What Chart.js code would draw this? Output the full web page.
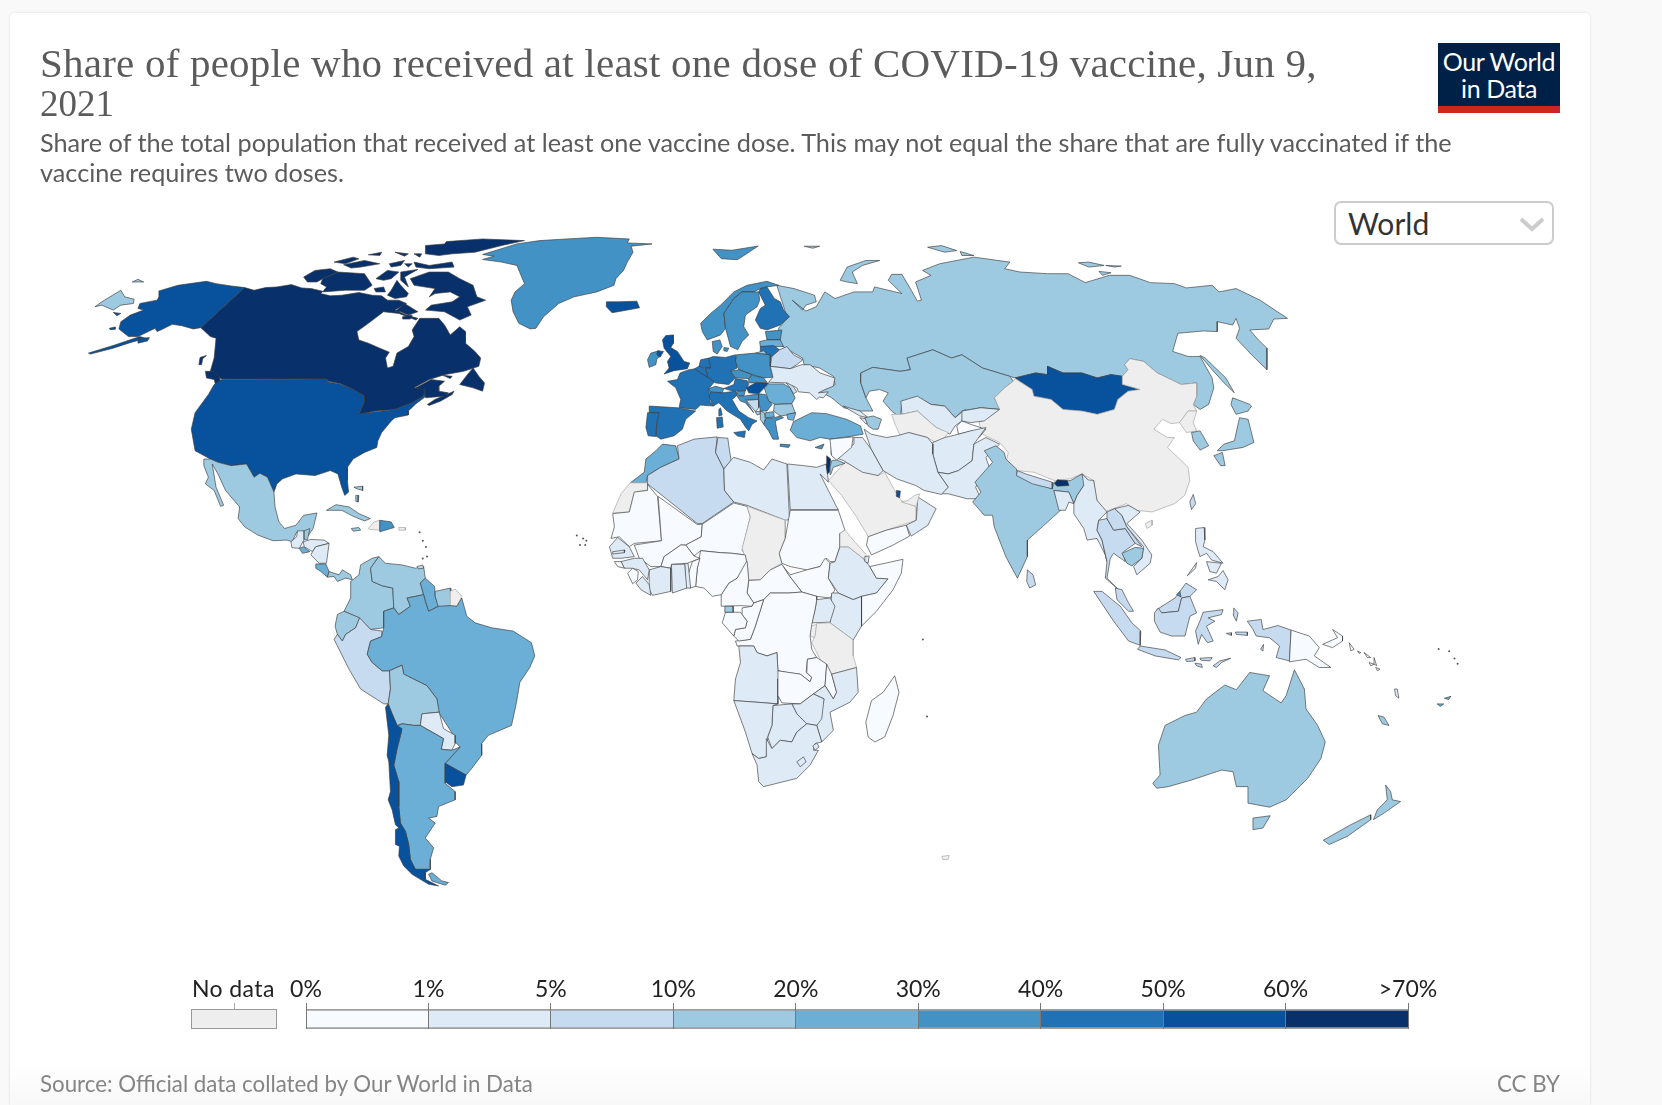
<!DOCTYPE html>
<html>
<head>
<meta charset="utf-8">
<title>Share of people who received at least one dose of COVID-19 vaccine</title>
<script src="https://cdn.jsdelivr.net/npm/chart.js@4"></script>
<style>
html, body { margin: 0; padding: 0; width: 1662px; height: 1105px; overflow: hidden; background: #f9f9f9; }
#card { position: absolute; left: 10px; top: 13px; width: 1580px; height: 1092px; background: linear-gradient(#fff 0, #fff 1050px, #f8f8f8 1092px); border-radius: 5px 5px 0 0; box-shadow: 0 0 3px rgba(0,0,0,.12); }
#map { position: absolute; left: 0; top: 0; }
#legend { position: absolute; left: 265px; top: 965px; }
.txt { position: absolute; white-space: nowrap; font-family: Lato, sans-serif; color: #5b5b5b; }
#title { left: 40px; font-family: "Liberation Serif", serif; font-size: 41px; letter-spacing: .22px; }
#logo { position: absolute; left: 1438px; top: 43px; width: 122px; height: 70px; background: #002147; border-bottom: 7px solid #ce261e; box-sizing: border-box; color: #fff; font: 25px/27px Lato, sans-serif; text-align: center; padding-top: 5px; letter-spacing: -.4px; }
#picker { position: absolute; left: 1334px; top: 201px; width: 220px; height: 44px; box-sizing: border-box; border: 2px solid #ccc; border-radius: 7px; background: #fff; font: 30px/40px Lato, sans-serif; color: #333; padding-left: 12px; }
#picker svg { position: absolute; right: 7px; top: 13px; }
#nodata { position: absolute; left: 191px; top: 1009px; width: 86px; height: 20px; box-sizing: border-box; background: #eee; border: 1px solid #999; }
#nodatatick { position: absolute; left: 234px; top: 1003px; width: 1px; height: 6px; background: #aaa; }
</style>
</head>
<body>
<div id="card"></div>
<canvas id="map" width="1662" height="1105"></canvas>
<canvas id="legend" width="1193" height="64"></canvas>
<div class="txt" id="title" style="top:39px">Share of people who received at least one dose of COVID-19 vaccine, Jun 9,</div>
<div class="txt" id="title2" style="left:40px;top:82px;font:37px 'Liberation Serif',serif">2021</div>
<div class="txt" style="left:40px;top:127px;font-size:25.25px">Share of the total population that received at least one vaccine dose. This may not equal the share that are fully vaccinated if the</div>
<div class="txt" style="left:40px;top:157px;font-size:25.25px">vaccine requires two doses.</div>
<div id="logo">Our World<br>in Data</div>
<div id="picker">World<svg width="26" height="16" viewBox="0 0 26 16"><path d="M2 3 L13 13 L24 3" fill="none" stroke="#ccc" stroke-width="4"/></svg></div>
<div class="txt" style="left:192px;top:974px;font-size:23px;letter-spacing:.4px;color:#222">No data</div>
<div id="nodata"></div><div id="nodatatick"></div>
<div class="txt" style="left:40px;top:1070px;font-size:22.3px;color:#858585">Source: Official data collated by Our World in Data</div>
<div class="txt" style="right:102px;top:1070px;font-size:22.3px;color:#858585">CC BY</div>
<script>
// legend bins
const legendLabels = ['0%', '1%', '5%', '10%', '20%', '30%', '40%', '50%', '60%', '>70%'];
const shareBreaks = [1, 5, 10, 20, 30, 40, 50, 60];
const binColors = ['#f7fbff', '#deebf7', '#c6dbef', '#9ecae1', '#6baed6', '#4292c6', '#2171b5', '#08519c', '#08306b'];
const noDataColor = '#eeeeee';

const sheetRussia = [780, 240, 2.9037, 3];
const sheetAmericasN = [60, 220, 2.6133, 3];
const sheetAmericasS = [280, 500, 3, 3];
const sheetAfrica = [600, 430, 3, 3];
const sheetAsia = [780, 240, 2.9037, 3];
const sheetPacific = [960, 440, 3, 3];
const sheetEurope = [620, 270, 3, 3];
const sheetWhole = [0, 0, 0.9434, 0.9434];

const russiaNames = ['Russia'];
const russiaShares = [12];
const russiaRings = [[
  [-10,130,40,140,100,160,105,180,75,190,65,205,35,175,75,208,105,195,130,150,160,170,215,150,270,150,275,135,355,155,315,115,325,97,355,97,385,150,400,178,412,175,395,120,440,100,415,85,465,65,565,45,670,60,655,80,700,90,780,95,840,95,890,122,960,100,1020,100,1080,122,1150,125,1185,138,1260,130,1280,150,1330,140,1400,175,1480,230,1440,232,1425,262,1370,265,1395,295,1420,320,1420,385,1380,345,1330,290,1340,260,1330,230,1320,250,1275,240,1275,270,1235,268,1160,275,1145,330,1190,345,1225,345,1260,410,1265,440,1250,490,1225,505,1205,490,1215,465,1215,425,1170,430,1100,395,1060,360,1020,352,1005,370,1015,385,998,405,965,400,925,410,880,395,825,395,780,375,780,400,745,395,685,410,590,380,530,340,500,350,445,325,370,350,380,385,350,390,270,378,235,395,235,425,250,470,270,510,230,510,185,500,150,470,115,450,160,430,155,405,115,380,70,370,65,350,15,320,0,310,-5,260,20,230,10,195],
  [175,115,195,75,250,55,290,55,240,70,210,90,225,125,195,120],
  [430,15,470,10,515,25,480,30],
  [525,28,565,40,530,40],
  [870,62,900,60,945,70,900,75],
  [950,70,995,72,975,75],
  [930,88,965,92,940,100],
  [70,12,115,12,95,18],
  [1225,342,1240,350,1300,410,1325,455,1295,425,1260,385]
]];

const northNames = ['Chukotka', 'Canada', 'Alaska', 'United States', 'Greenland', 'Iceland', 'Mexico', 'Cuba', 'Jamaica', 'Haiti', 'Dominican Republic', 'Puerto Rico', 'Bahamas'];
const northShares = [12, 62, 52, 52, 35, 55, 15, 15, 12, null, 32, null, 15];
const northRings = [
  [[82,255,100,240,150,205,160,225,185,232,183,245,150,250,130,265,100,250],[180,180,195,172,210,180]],
  [[475,197,500,205,530,197,560,195,598,188,625,198,650,200,680,208,675,215,700,222,730,220,775,212,810,220,835,222,850,235,880,235,900,245,870,265,900,280,930,290,925,295,880,275,840,270,800,305,770,330,775,355,800,365,830,380,855,392,845,410,850,440,865,435,875,395,905,375,920,345,915,325,935,290,965,290,985,290,1000,310,1015,340,1040,315,1055,330,1055,365,1080,390,1095,410,1090,435,1050,450,1000,460,960,475,920,500,950,500,945,525,915,545,870,565,820,570,775,580,790,540,790,525,760,505,725,487,695,480,690,473,415,473,385,450,395,410,400,350,385,345,360,318],
   [1040,490,1060,460,1075,440,1090,465,1105,485,1100,510,1075,500],
   [955,550,975,535,1025,510,1020,520,990,540,960,553],
   [945,505,925,500,965,475,1000,480,985,495,985,510,1010,515,1000,525,950,530],
   [995,462,1020,465,1015,472],
   [910,170,960,150,1010,150,1040,170,1075,190,1085,225,1108,235,1060,255,1070,280,1040,295,1000,270,950,265,965,250,1020,240,1040,225,1015,210,975,215,960,225,975,200,920,190],
   [870,270,895,245,930,270,905,280,885,270],
   [890,285,915,280,910,292,890,292],
   [680,170,720,150,790,155,810,190,790,205,740,205,680,210,690,195,675,185],
   [630,165,660,145,700,140,720,150,680,170,665,180,640,180],
   [820,170,850,145,880,150,860,170,840,175],
   [815,200,840,195,845,210,820,210],
   [860,205,875,175,885,190,905,215,900,225,870,230,850,220],
   [885,150,930,142,910,155,895,165,905,195,885,175],
   [950,70,1000,65,1005,58,1100,50,1210,55,1150,70,1080,90,1020,95,985,100,950,95],
   [920,120,960,130,1020,120,1025,135,960,140,925,135],
   [855,125,895,115,885,130,860,135],
   [710,120,760,105,775,110,740,125],
   [735,128,790,115,830,125,780,135,755,138],
   [800,98,835,90,830,100],
   [870,90,905,95,895,102],
   [920,95,940,95,935,105],
   [895,125,915,125,905,135],
   [355,430,358,408,375,402,365,412,362,430],
   [372,450,395,450,410,470,410,495,400,495,395,475,375,470]],
  [[65,395,130,372,200,345,215,350,170,365,130,380,70,398],[195,352,225,348,220,358,195,365],[120,320,135,316,135,323,122,324],[130,272,150,275,140,282]],
  [[250,207,300,190,375,178,400,185,440,192,475,197,360,318,340,322,310,312,285,308,255,325,245,330,240,320,195,345,170,345,145,322,150,300,175,280,210,265,195,260,200,245,245,235,250,225],
   [415,475,690,473,695,482,725,488,760,505,790,525,790,540,775,578,820,572,870,565,915,545,945,525,950,500,948,528,925,548,905,570,905,582,870,590,860,600,835,635,825,660,822,680,790,695,760,715,745,740,745,780,748,815,738,825,730,800,720,760,700,750,660,765,610,760,575,775,560,790,552,815,535,770,515,758,500,770,480,730,440,735,405,725,385,715,345,690,335,625,345,575,380,520,395,490]],
  [[1100,97,1190,65,1250,55,1320,50,1400,45,1485,50,1480,62,1545,65,1490,72,1495,90,1480,120,1470,145,1450,170,1445,190,1400,210,1340,225,1300,245,1260,285,1240,320,1225,322,1195,305,1180,270,1175,235,1185,210,1210,185,1190,130,1150,120,1100,112,1130,102]],
  [[1425,240,1460,240,1505,238,1512,258,1480,265,1440,273,1425,255]],
  [[368,715,385,715,405,725,440,735,480,730,500,770,515,758,535,770,552,815,555,860,565,905,580,925,610,915,630,885,665,878,655,925,640,950,625,935,612,935,600,965,585,960,550,962,510,945,475,920,458,895,462,860,425,810,405,760,390,730,400,800,420,855,412,858,395,810,372,790,380,770,368,735]],
  [[690,870,715,853,750,860,775,880,805,895,790,902,760,888,730,870]],
  [[755,925,775,922,780,930,760,933]],
  [[800,925,815,905,830,900,830,930,805,928]],
  [[830,900,860,905,868,922,830,935]],
  [[880,922,897,922,897,930,880,930]],
  [[762,800,785,797,785,810,770,805],[767,825,775,825,773,845,767,843]]
];

const southNames = ['Guatemala', 'Belize', 'Honduras', 'El Salvador', 'Nicaragua', 'Costa Rica', 'Panama', 'Colombia', 'Venezuela', 'Trinidad', 'Guyana', 'Suriname', 'French Guiana', 'Ecuador', 'Peru', 'Brazil', 'Bolivia', 'Paraguay', 'Uruguay', 'Argentina', 'Chile'];
const southShares = [2, 12, 2, 25, 3, 25, 15, 15, 12, 8, 22, 12, null, 14, 7, 24, 15, 4, 55, 28, 58];
const southRings = [
  [[25,125,42,110,45,92,65,92,65,118,50,145,28,143]],
  [[65,92,82,85,75,118,65,118]],
  [[62,125,85,118,125,120,140,130,100,140,90,155,65,140]],
  [[50,145,62,140,82,155,60,160]],
  [[90,155,100,140,140,130,132,190,110,190,85,165]],
  [[100,192,130,192,140,215,135,232,115,215,100,205]],
  [[140,215,170,225,180,210,205,225,210,240,190,235,165,245,155,230,135,232]],
  [[235,195,270,175,290,170,265,205,270,245,300,258,332,265,335,325,305,335,305,385,265,390,230,355,185,335,205,295,205,245,230,225]],
  [[265,205,290,170,310,190,360,195,400,205,425,200,430,235,415,250,425,285,375,295,385,320,350,345,335,325,332,265,300,258,270,245]],
  [[405,200,422,195,425,205,410,207]],
  [[430,235,458,260,460,290,470,320,440,335,430,305,425,285,415,250]],
  [[460,275,505,265,507,318,470,325,460,290]],
  [[505,275,520,268,540,290,525,320,507,320]],
  [[165,345,185,335,232,355,220,385,190,405,180,425,165,405,158,380]],
  [[155,420,165,405,180,425,190,405,220,385,232,355,265,390,300,395,298,412,265,425,255,465,270,490,300,515,322,515,325,570,318,615,305,615,235,570,200,510]],
  [[305,335,335,325,350,345,385,320,375,295,425,285,430,305,440,335,470,320,507,318,525,320,540,295,555,350,580,370,630,385,695,395,750,430,760,470,745,505,715,550,705,610,690,680,620,710,600,735,600,770,570,810,553,830,490,795,535,745,520,730,515,710,470,640,465,600,435,560,365,525,360,498,320,515,300,515,270,490,255,465,265,425,298,412,305,385]],
  [[322,515,360,498,365,525,435,560,465,600,472,640,420,645,415,680,395,680,360,675,345,680,330,645,318,615,325,570]],
  [[420,645,472,640,485,690,520,710,520,735,510,755,478,752,485,720,415,680]],
  [[490,795,553,830,545,860,510,865,490,850]],
  [[345,682,360,675,395,680,415,680,485,720,478,752,510,755,535,745,490,795,490,855,520,880,520,905,470,925,465,955,440,960,460,975,430,1020,455,1050,445,1085,445,1115,400,1115,385,1085,380,1040,370,1000,355,975,350,925,350,850,335,800,345,750,358,700],[450,1125,480,1150,500,1155,490,1163,450,1150,440,1130]],
  [[310,625,318,615,330,645,345,680,360,690,345,750,335,800,350,850,350,925,355,975,370,1000,380,1040,385,1085,400,1115,445,1115,430,1125,430,1145,470,1165,440,1160,390,1130,365,1105,350,1075,352,1045,340,1040,340,995,350,990,340,980,330,935,318,905,325,880,320,790,315,770,320,710]]
];

const africaNames = ['Saudi Arabia', 'Yemen', 'Oman', 'UAE', 'Qatar', 'Morocco', 'Western Sahara', 'Algeria', 'Tunisia', 'Libya', 'Egypt', 'Mauritania', 'Mali', 'Niger', 'Chad', 'Sudan', 'South Sudan', 'CAR', 'Cameroon', 'Nigeria', 'Benin', 'Togo', 'Ghana', 'Burkina Faso', 'Ivory Coast', 'Liberia', 'Guinea', 'Sierra Leone', 'Guinea-Bissau', 'Senegal', 'Gambia', 'Ethiopia', 'Eritrea', 'Djibouti', 'Somalia', 'Kenya', 'Uganda', 'Rwanda', 'Tanzania', 'DR Congo', 'Congo', 'Gabon', 'Equatorial Guinea', 'Angola', 'Zambia', 'Malawi', 'Mozambique', 'Zimbabwe', 'Botswana', 'Namibia', 'South Africa', 'Lesotho', 'Eswatini', 'Madagascar'];
const africaShares = [null, 0.5, 4, null, 55, 26, null, 6, 6, 2, 2, 0.7, 0.6, 0.5, null, 0.8, 0.4, 0.2, 0.3, 0.9, 0.3, 3, 3, 0.1, 2, 1.5, 2, 0.6, 0.5, 3, 1.5, 2, null, 4, 0.3, 2, 2, null, null, 0.05, 0.3, 0.5, 13, 2, 0.8, 0.9, 2, 4, 4, 3, 2.5, 2, 3, 0.3];
const africaRings = [
  [[685,150,735,95,835,135,855,125,885,180,905,210,950,230,950,270,860,300,805,320,800,310,770,260,725,195]],
  [[805,320,860,300,920,285,930,318,880,345,815,375,800,345]],
  [[920,285,950,270,955,200,1010,235,985,285,935,318]],
  [[905,215,950,228,960,190,945,195,925,210]],
  [[890,180,902,182,900,202,890,198]],
  [[185,40,225,45,235,85,180,110,140,135,135,157,88,157,130,125,135,85,165,60]],
  [[88,157,140,157,140,178,100,185,85,245,35,248,60,190]],
  [[230,45,280,25,350,18,345,65,370,115,372,180,400,215,305,280,290,280,140,160,140,135,180,110,235,85]],
  [[352,20,382,22,385,45,392,90,370,115,345,65]],
  [[392,88,400,80,450,95,490,118,515,85,560,100,568,268,555,270,440,225,400,215,372,180,370,115]],
  [[562,100,610,105,650,110,680,100,685,155,660,130,710,230,715,238,570,238]],
  [[35,250,85,245,100,185,140,180,140,162,170,198,182,332,100,340,85,350,55,320,30,325,40,290]],
  [[172,198,290,283,305,282,302,320,255,345,240,345,190,380,180,410,150,410,115,385,100,345,182,332]],
  [[305,282,400,218,440,228,450,260,425,360,435,375,395,370,360,368,300,362,280,378,255,345,302,320]],
  [[440,228,555,270,555,325,537,370,545,400,510,420,480,450,445,450,440,395,432,375,425,355,450,260]],
  [[570,240,715,240,735,300,720,310,720,350,705,395,690,395,680,385,660,410,620,420,570,410,545,400,537,370,555,325]],
  [[545,405,570,435,620,420,660,410,675,385,690,400,685,445,705,480,690,505,650,500,605,487,565,435]],
  [[445,452,480,450,510,420,545,403,565,435,605,487,565,490,510,490,490,510,460,520,440,490]],
  [[440,395,445,450,440,490,460,520,455,530,420,528,362,530,362,495,385,460,410,445,432,395]],
  [[285,470,290,415,300,362,360,368,395,370,435,375,438,395,410,445,385,460,362,495,335,500,310,475]],
  [[268,475,262,435,275,395,298,385,290,415,285,470]],
  [[255,475,252,400,262,400,270,475]],
  [[212,403,252,403,258,475,215,490]],
  [[180,410,190,380,240,345,255,345,280,378,298,385,260,400,212,403,210,415]],
  [[145,420,180,410,210,415,210,485,155,497,145,480]],
  [[105,460,125,440,145,465,150,497,120,480]],
  [[60,395,100,385,125,385,145,420,140,450,115,420,90,415,70,415]],
  [[80,430,95,415,112,425,110,450,95,462]],
  [[40,395,60,395,70,415,50,410]],
  [[25,350,50,322,85,350,100,380,60,385,35,385]],
  [[35,365,72,360,70,368,35,372]],
  [[720,350,745,350,790,385,810,410,830,445,865,447,830,490,785,500,760,510,715,490,685,445,690,400,705,395]],
  [[735,300,760,330,800,375,790,385,745,350,720,350,720,310]],
  [[795,380,808,378,805,400,795,395]],
  [[810,410,910,388,905,430,880,480,830,545,785,590,785,500,830,490,865,447,830,445]],
  [[695,490,715,490,760,510,785,500,785,590,760,632,690,580]],
  [[650,510,690,505,705,530,690,578,635,580,645,540]],
  [[630,590,650,585,645,625,630,620]],
  [[650,582,690,580,760,632,760,680,770,715,695,735,660,690,635,640,645,620]],
  [[490,510,510,490,565,490,605,487,650,500,650,510,645,540,635,585,630,620,635,660,650,685,622,690,618,730,635,745,630,758,600,735,560,730,533,725,530,670,500,680,470,670,460,650,410,650,405,635,450,630,465,590]],
  [[425,535,455,530,460,520,490,510,465,590,450,630,415,635,400,620,405,600,435,595,440,575,425,555]],
  [[375,548,420,548,425,555,440,575,435,595,405,600,400,620,365,580]],
  [[373,530,398,530,398,548,373,548]],
  [[415,650,460,650,470,670,500,680,530,670,533,725,558,730,558,750,532,750,533,825,470,820,400,815,405,750,420,700]],
  [[533,725,600,735,630,758,635,745,620,730,622,690,650,685,680,705,675,770,640,795,600,825,545,822,533,800]],
  [[680,705,695,735,710,790,700,810,675,770]],
  [[695,735,770,715,775,790,750,820,690,850,700,905,665,940,650,890,672,810,640,795,675,770,700,810,710,790]],
  [[575,825,600,825,640,795,672,810,665,870,650,890,620,885,590,855]],
  [[518,830,575,825,590,855,620,885,590,910,575,940,540,935,515,960,502,925,515,890]],
  [[400,815,470,820,533,825,518,830,515,890,502,925,498,985,475,990,455,975,435,910]],
  [[498,930,515,960,540,935,575,940,590,910,620,885,650,890,665,940,645,945,640,965,655,965,630,1010,590,1050,530,1065,490,1075,475,1060,470,1010,455,975,475,990,498,985]],
  [[590,1000,610,985,618,1000,600,1015]],
  [[638,952,650,943,657,955,645,965]],
  [[885,740,898,790,880,860,855,925,825,940,805,925,798,880,815,815,850,790]]
];

const asiaNames = ['Kazakhstan', 'Mongolia', 'China', 'North Korea', 'South Korea', 'Hainan', 'Taiwan', 'Japan', 'Uzbekistan', 'Turkmenistan', 'Kyrgyzstan', 'Tajikistan', 'Afghanistan', 'Pakistan', 'Iran', 'Iraq', 'Syria'];
const asiaShares = [14, 55, null, null, 14, null, 6, 14, 3, null, 2, 0.7, 2, 3, 3, 2, 0.5];
const asiaRings = [
  [[235,395,270,378,350,390,380,385,370,350,445,325,500,350,530,340,590,380,670,405,680,420,655,440,625,470,640,505,585,500,530,510,510,530,480,495,440,490,400,470,355,485,350,530,325,510,300,480,315,455,290,445,260,450,250,470,235,425]],
  [[685,410,745,395,780,400,780,375,825,395,880,395,925,410,965,400,998,405,1000,430,1050,445,1015,450,985,475,975,505,925,520,880,510,825,505,790,475,740,465,735,445]],
  [[680,420,685,412,735,445,740,465,790,475,825,505,880,510,925,520,975,505,985,475,1015,450,1050,445,1000,430,998,405,1015,385,1005,370,1020,352,1060,360,1100,395,1170,430,1215,425,1215,465,1205,490,1215,510,1190,510,1165,545,1140,548,1115,535,1090,565,1130,590,1150,590,1130,620,1190,680,1195,720,1180,765,1150,790,1085,815,1040,810,1010,790,985,800,945,815,920,770,915,720,880,700,845,715,800,720,740,695,690,690,660,660,665,635,640,605,590,580,580,545,620,520,640,505,625,470,655,440]],
  [[1165,545,1190,510,1215,510,1205,545,1215,570,1185,575]],
  [[1200,575,1225,570,1250,615,1225,628,1205,600]],
  [[1065,850,1085,840,1085,855,1070,865]],
  [[1205,762,1212,790,1200,808,1195,785]],
  [[1320,470,1370,490,1375,495,1365,510,1330,520,1315,490],[1340,530,1365,535,1382,605,1350,620,1290,630,1275,630,1295,610,1325,600],[1265,645,1290,635,1298,675,1285,675]],
  [[352,480,400,465,440,490,480,495,510,530,540,505,530,540,510,555,495,580,455,560,400,510,355,520]],
  [[325,520,355,520,400,510,455,560,490,575,480,590,460,610,430,590,375,575,350,585,335,550]],
  [[530,510,585,500,640,505,595,540,555,545,530,540]],
  [[515,555,530,540,555,550,600,565,580,590,550,585,560,570,520,580]],
  [[445,605,480,590,520,580,555,570,600,560,565,610,560,660,520,690,490,700,460,695,445,640]],
  [[460,695,490,700,520,690,560,660,565,610,600,590,640,610,600,650,610,680,570,740,585,775,545,775,490,760,470,760,490,740]],
  [[245,565,265,580,310,590,340,585,375,575,430,590,445,610,445,640,460,695,490,740,470,762,420,750,395,735,340,715,300,690,265,625]],
  [[215,590,240,590,265,625,300,690,285,705,240,695,185,660,160,650,215,610]],
  [[150,600,210,590,205,620,160,650,148,640]]
];

const pacificNames = ['India', 'Nepal', 'Bhutan', 'Bangladesh', 'Myanmar', 'Thailand', 'Laos', 'Vietnam', 'Cambodia', 'Malaysia', 'Brunei', 'Sri Lanka', 'Indonesia', 'Philippines', 'Papua New Guinea', 'Solomon Islands', 'Vanuatu', 'New Caledonia', 'Fiji', 'Australia', 'New Zealand'];
const pacificShares = [14, 7, 62, 3, 3, 6, 7, 1.5, 12, 8, 35, 7, 6, 3, 0.2, 0.7, 3, 13, 25, 15, 12];
const pacificRings = [
  [[75,30,110,15,135,35,140,55,172,85,175,105,280,145,285,125,335,120,370,100,388,118,375,135,355,165,345,190,330,155,285,150,305,210,250,260,205,300,205,350,175,415,140,350,105,260,100,225,75,225,40,185,65,155,47,125,100,65]],
  [[175,90,200,100,280,125,280,145,220,130,172,105]],
  [[287,130,295,118,325,120,330,135,295,137]],
  [[285,150,330,155,345,190,330,185,320,210,300,210]],
  [[370,100,388,118,405,120,415,180,445,215,420,240,415,270,430,300,445,365,440,345,415,295,385,300,375,265,345,220,345,190,355,165,375,135]],
  [[420,240,445,235,465,270,500,265,530,310,495,335,500,365,465,340,455,355,445,415,480,450,440,415,445,365,430,300,415,270]],
  [[445,215,468,205,490,225,505,260,550,320,530,310,500,265,465,270,445,235]],
  [[468,205,510,195,545,215,505,250,550,300,580,345,575,370,535,405,525,380,550,355,555,320,505,260,490,225]],
  [[490,340,530,322,555,325,550,355,520,378,505,370]],
  [[470,445,490,450,510,490,525,515,510,515,475,480],[595,510,650,475,683,430,715,450,695,470,670,475,660,515,610,520]],
  [[655,465,665,455,668,472]],
  [[205,390,222,405,230,435,212,445,203,425]],
  [[405,455,430,455,485,500,520,550,547,575,545,618,510,605,465,545],[537,630,545,620,620,632,668,655,660,662,590,650],[588,520,600,505,610,520,660,515,670,475,695,470,715,520,695,530,680,590,640,590,605,578,588,545],[735,518,795,510,790,525,750,535,770,545,745,560,765,605,748,610,730,585,720,615,712,575,725,545],[827,505,840,520,835,545,825,525],[868,545,910,540,915,570,935,565,960,558,1000,572,995,665,955,655,965,620,935,595,895,590,885,570],[832,578,868,578,868,588,835,585],[805,582,820,580,820,588],[765,680,785,665,818,657,790,670,775,685],[682,660,710,655,710,665,685,667],[725,657,762,655,755,665,728,663],[710,672,730,675,732,685,715,680],[908,630,917,615,915,635]],
  [[712,265,738,262,740,300,735,320,765,335,795,370,760,360,745,340,725,350,712,305],[745,365,790,370,775,400,755,395],[750,420,780,410,795,392,810,420,800,450,775,425],[687,408,715,368,712,385]],
  [[1000,572,1055,590,1085,625,1070,650,1120,685,1085,685,1045,660,995,668],[1095,615,1140,595,1125,570,1155,590,1155,605,1125,625]],
  [[1175,610,1190,630,1180,635],[1200,635,1210,640,1205,643],[1220,640,1240,655,1230,655],[1250,655,1258,680,1250,675],[1235,670,1250,675,1240,680],[1255,685,1268,690,1260,695]],
  [[1312,750,1320,750,1325,778,1315,770]],
  [[1262,830,1280,835,1295,860,1275,855]],
  [[1440,795,1460,795,1450,803],[1462,778,1482,772,1475,782]],
  [[583,1035,605,1010,600,920,620,860,680,830,715,820,745,780,800,738,835,752,875,700,935,710,915,755,970,792,985,770,1010,692,1040,750,1045,810,1080,860,1103,910,1090,960,1050,1020,985,1085,935,1107,870,1095,870,1045,835,1045,825,1000,790,995,700,1025,630,1045,595,1050],[885,1140,937,1133,915,1170,885,1175]],
  [[1097,1207,1180,1160,1240,1130,1240,1145,1170,1195,1115,1220],[1285,1040,1300,1060,1305,1085,1330,1090,1280,1125,1248,1145,1260,1115,1290,1085]]
];

const europeNames = ['Ireland', 'Northern Ireland', 'United Kingdom', 'France', 'Spain', 'Portugal', 'Netherlands', 'Belgium', 'Germany', 'Denmark', 'Norway', 'Sweden', 'Finland', 'Estonia', 'Latvia', 'Lithuania', 'Kaliningrad', 'Belarus', 'Poland', 'Czechia', 'Slovakia', 'Switzerland', 'Austria', 'Hungary', 'Italy', 'Slovenia', 'Croatia', 'Bosnia', 'Serbia', 'Romania', 'Moldova', 'Ukraine', 'Bulgaria', 'North Macedonia', 'Albania', 'Montenegro', 'Greece', 'Turkey', 'Cyprus', 'Syria coast', 'Israel', 'Jordan', 'Georgia', 'Armenia', 'Azerbaijan'];
const europeShares = [35, 59, 59, 43, 43, 43, 42, 45, 45, 37, 35, 36, 48, 33, 24, 42, 12, 7, 38, 37, 36, 39, 42, 53, 42, 38, 32, 6, 38, 24, 7, 2, 12, 25, 13, 19, 37, 24, 35, 0.5, 62, 12, 3, 1, 14];
const europeRings = [
  [[80,265,90,245,115,238,118,255,108,262,105,280,85,288]],
  [[110,238,128,240,118,257,108,250]],
  [[125,205,135,192,157,190,158,215,150,228,170,240,190,270,207,275,200,292,160,298,130,308,145,290,140,270,150,255,130,230]],
  [[140,330,170,325,178,305,205,295,225,292,262,318,283,330,265,352,268,390,278,405,240,402,225,415,175,410,180,385,165,350],[295,415,300,410,305,432,295,435]],
  [[85,405,170,410,225,420,195,445,185,475,160,495,120,505,105,495,108,452,115,425,85,425]],
  [[80,425,115,425,108,452,105,497,82,495,75,470]],
  [[240,265,265,260,270,290,255,290,235,285]],
  [[222,292,235,285,255,292,262,318,240,305]],
  [[278,255,315,258,345,250,350,290,330,300,345,320,325,340,285,335,262,318,255,290,270,290,265,260]],
  [[275,210,298,205,305,225,290,248,278,240],[310,228,325,230,320,240,310,238]],
  [[240,155,245,180,260,205,300,190,315,170,310,125,340,80,365,60,400,60,420,50,440,45,475,40,440,28,380,40,340,60,300,100,270,125]],
  [[310,125,340,80,365,60,415,60,418,85,410,105,375,130,370,165,385,190,365,210,352,235,330,225,315,170]],
  [[415,60,420,50,440,45,462,80,480,90,490,115,508,135,480,160,440,175,420,170,405,145,420,110,435,100]],
  [[435,180,485,175,480,205,440,205]],
  [[418,210,440,205,480,205,490,225,460,225,420,225]],
  [[420,225,460,222,478,235,455,257,435,250,420,240]],
  [[405,245,430,238,440,248,410,248]],
  [[478,235,500,225,520,250,548,265,530,280,510,292,450,285,455,255]],
  [[348,250,405,245,450,250,450,285,458,318,430,320,395,310,355,295,345,270]],
  [[330,300,355,295,395,310,385,322,345,320]],
  [[385,322,395,312,430,320,440,333,405,335,385,335]],
  [[265,352,285,345,310,352,305,365,270,368]],
  [[310,352,340,340,345,322,380,328,385,340,375,358,340,360,320,355]],
  [[378,350,405,335,445,335,432,350,415,368,385,365]],
  [[265,375,270,362,305,365,345,360,350,372,335,385,355,420,385,440,410,450,395,460,385,480,375,468,360,445,320,420,295,395,278,405],[340,485,375,480,372,500,350,495],[288,440,305,438,308,468,290,472]],
  [[348,362,375,358,370,375,350,372]],
  [[350,375,370,375,415,368,415,385,375,385,400,425,375,395,360,390]],
  [[378,388,415,385,415,410,405,422]],
  [[415,368,435,370,455,400,440,420,420,420,415,385]],
  [[432,350,445,338,490,338,510,350,525,380,515,398,465,400,445,390]],
  [[498,335,512,335,530,362,520,368,510,350]],
  [[445,333,458,318,450,285,510,292,545,280,570,280,600,305,645,320,640,345,615,355,595,365,625,362,610,380,598,378,590,385,568,365,535,362,530,350,500,335]],
  [[462,400,515,398,525,425,500,432,480,435,460,420]],
  [[435,425,460,422,462,438,437,440]],
  [[420,420,432,425,435,445,430,460,420,445]],
  [[405,422,420,420,418,430,410,432]],
  [[430,460,437,442,462,440,480,435,490,440,465,450,470,480,475,505,458,505,445,480],[480,520,510,522,505,530,482,527]],
  [[510,478,520,452,575,425,620,428,680,445,722,465,730,490,670,500,630,505,600,500,570,510,530,500],[500,430,527,425,520,448,503,445]],
  [[585,530,612,520,605,535]],
  [[630,505,700,498,695,530,650,568,635,555]],
  [[620,555,632,565,628,605,622,610,618,580]],
  [[635,570,650,568,675,578,640,590,632,612,630,590]],
  [[670,405,720,420,745,440,720,435]],
  [[720,440,745,445,740,460]],
  [[735,440,760,435,785,445,775,475,760,475,745,465]]
];

// small specks, in the coordinates of the whole picture
const tinyIslandX = [394, 397, 400, 397, 401, 543, 549, 552, 546, 551, 871, 875, 1375, 1370, 1378, 1360];
const tinyIslandY = [502, 510, 516, 527, 525, 505, 508, 510, 514, 514, 604, 677, 622, 615, 627, 613];
const svalbardRing = [672, 233, 690, 234, 715, 230, 700, 240, 695, 243, 680, 242];
const kerguelenRing = [889, 810, 896, 809, 895, 813, 890, 813];

function colorOf(share) {
    if (share === null) return noDataColor;
    let i = 0;
    while (i < shareBreaks.length && share >= shareBreaks[i]) i++;
    return binColors[i];
}

function ringPoints(sheet, ring) {
    const pts = [];
    for (let i = 0; i < ring.length; i += 2) {
        pts.push({ x: sheet[0] + ring[i] / sheet[2], y: sheet[1] + ring[i + 1] / sheet[3] });
    }
    pts.push(pts[0]);
    return pts;
}

const datasets = [];
function addRegion(sheet, names, shares, rings) {
    names.forEach((name, i) => {
        rings[i].forEach(ring => {
            datasets.push({
                label: name,
                data: ringPoints(sheet, ring),
                showLine: true,
                fill: 'shape',
                tension: 0,
                pointRadius: 0,
                backgroundColor: colorOf(shares[i]),
                borderColor: shares[i] === null ? 'rgba(170,170,170,.8)' : 'rgba(60,60,60,.72)',
                borderWidth: 0.9
            });
        });
    });
}

addRegion(sheetRussia, russiaNames, russiaShares, russiaRings);
addRegion(sheetAmericasN, northNames, northShares, northRings);
addRegion(sheetAmericasS, southNames, southShares, southRings);
addRegion(sheetAfrica, africaNames, africaShares, africaRings);
addRegion(sheetAsia, asiaNames, asiaShares, asiaRings);
addRegion(sheetPacific, pacificNames, pacificShares, pacificRings);
addRegion(sheetEurope, europeNames, europeShares, europeRings);
addRegion(sheetWhole, ['Svalbard', 'Kerguelen'], [35, null], [[svalbardRing], [kerguelenRing]]);

datasets.push({
    label: 'Small islands',
    data: tinyIslandX.map((x, i) => ({ x: x / sheetWhole[2], y: tinyIslandY[i] / sheetWhole[3] })),
    showLine: false,
    pointRadius: 1,
    backgroundColor: '#555',
    borderWidth: 0
});

// later entries have to paint on top
datasets.forEach((d, i) => { d.order = datasets.length - i; });

new Chart(document.getElementById('map').getContext('2d'), {
    type: 'scatter',
    data: { datasets },
    options: {
        responsive: false,
        animation: false,
        events: [],
        layout: { padding: 0 },
        scales: {
            x: { type: 'linear', display: false, min: 0, max: 1662 },
            y: { type: 'linear', display: false, min: 0, max: 1105, reverse: true }
        },
        plugins: { legend: { display: false }, tooltip: { enabled: false } }
    }
});

new Chart(document.getElementById('legend').getContext('2d'), {
    type: 'bar',
    data: {
        labels: ['bins'],
        datasets: binColors.map(c => ({
            data: [1],
            backgroundColor: c,
            borderColor: '#a0a0a0',
            borderWidth: { top: 2, bottom: 2, left: 0, right: 0 },
            borderSkipped: false,
            barPercentage: 1,
            categoryPercentage: 1
        }))
    },
    options: {
        indexAxis: 'y',
        responsive: false,
        animation: false,
        events: [],
        layout: { autoPadding: false, padding: { left: 41, right: 50, top: 10, bottom: 0 } },
        scales: {
            x: {
                type: 'linear',
                stacked: true,
                position: 'top',
                min: 0,
                max: 9,
                afterFit: s => { s.height = 34; },
                ticks: {
                    stepSize: 1,
                    autoSkip: false,
                    maxRotation: 0,
                    padding: 0,
                    color: '#222',
                    font: { family: 'Lato', size: 23 },
                    callback: v => legendLabels[v]
                },
                grid: { color: '#777', tickLength: 6, z: 1 },
                border: { display: false }
            },
            y: { stacked: true, display: false }
        },
        plugins: { legend: { display: false }, tooltip: { enabled: false } }
    }
});
</script>
</body>
</html>
